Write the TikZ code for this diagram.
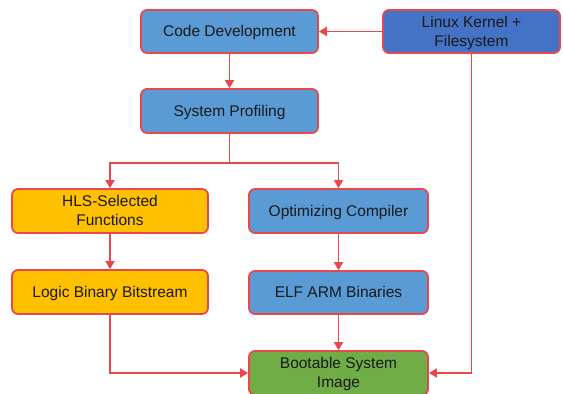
\documentclass[tikz,border=0pt]{standalone}
\usepackage{fontspec}
\setmainfont{Liberation Sans}
\usetikzlibrary{arrows.meta}
\definecolor{boxblue}{HTML}{5B9BD5}
\definecolor{boxdark}{HTML}{4472C4}
\definecolor{boxyellow}{HTML}{FFC000}
\definecolor{boxgreen}{HTML}{70AD47}
\definecolor{linkred}{HTML}{E8474C}
\tikzset{
  stage/.style={draw=linkred, line width=1.8pt, rounded corners=6pt,
    align=center, font=\fontsize{15.5}{19}\selectfont, text=black!90,
    inner sep=0pt, text depth=1pt},
  link/.style={draw=linkred, line width=1.8pt, -{Triangle[length=8pt,width=9pt]}},
  plain/.style={draw=linkred, line width=1.8pt}
}
\begin{document}
\begin{tikzpicture}[x=1pt,y=-1pt]
\useasboundingbox (0,0) rectangle (563,394);
\begin{scope}
\clip (0,0) rectangle (563,394);
\node[stage, fill=boxblue, minimum width=177pt, minimum height=43pt] (code) at (229.5,31.5) {Code Development};
\node[stage, fill=boxdark, minimum width=177pt, minimum height=43pt] (linux) at (471.5,31.5) {Linux Kernel +\\Filesystem};
\node[stage, fill=boxblue, minimum width=177pt, minimum height=44pt] (prof) at (229.5,111) {System Profiling};
\node[stage, fill=boxyellow, minimum width=196pt, minimum height=44pt] (hls) at (110,211) {HLS-Selected\\Functions};
\node[stage, fill=boxblue, minimum width=179pt, minimum height=44pt] (comp) at (338.5,211) {Optimizing Compiler};
\node[stage, fill=boxyellow, minimum width=196pt, minimum height=44pt] (logic) at (110,292) {Logic Binary Bitstream};
\node[stage, fill=boxblue, minimum width=179pt, minimum height=43pt] (elf) at (338.5,292.5) {ELF ARM Binaries};
\node[stage, fill=boxgreen, minimum width=179pt, minimum height=44pt] (boot) at (338.5,373) {Bootable System\\Image};
\end{scope}
\coordinate (split) at (229.5,163);
\draw[link] (linux) -- (code);
\draw[link] (code) -- (prof);
\draw[plain] (prof) -- (split);
\draw[link] (split) -| (hls);
\draw[link] (split) -| (comp);
\draw[link] (hls) -- (logic);
\draw[link] (comp) -- (elf);
\draw[link] (elf) -- (boot);
\draw[link] (logic.south) |- (boot.west);
\draw[link] (linux.south) |- (boot.east);
\end{tikzpicture}
\end{document}
